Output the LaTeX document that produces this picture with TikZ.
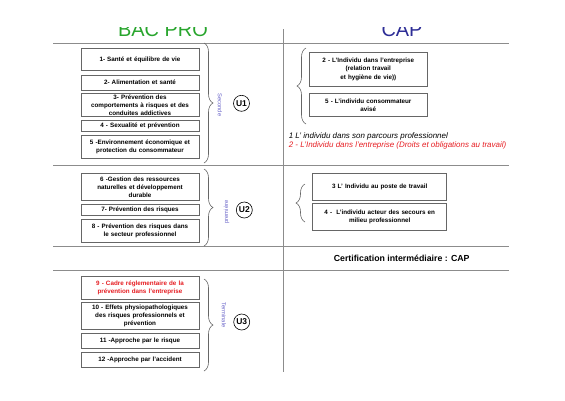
\documentclass[tikz,border=0pt]{standalone}
\usepackage{fontspec}
\setmainfont{Liberation Sans}
\usetikzlibrary{decorations.pathreplacing}

\definecolor{bacgreen}{RGB}{40,165,45}
\definecolor{capblue}{RGB}{45,45,150}
\definecolor{yearblue}{RGB}{105,100,200}
\definecolor{redtxt}{RGB}{230,30,35}

\begin{document}
\begin{tikzpicture}[
            x = 1bp, y = -1bp, % pixel units, y going down
            semithick, % line style
            inner sep = 1bp
        ]

        \tikzstyle{module}=[
            draw = black!60,
            line width = 0.8pt,
            fill = white,
            align = center,
            text width = 116bp,
            font = \fontsize{6.3}{8.2}\selectfont\bfseries
        ]
        \tikzstyle{unit}=[
            draw = black,
            circle,
            line width = 0.6pt,
            minimum size = 16bp,
            font = \fontsize{8.5}{9}\selectfont\bfseries
        ]
        \tikzstyle{year}=[
            text = yearblue,
            font = \fontsize{5.8}{6}\selectfont
        ]
        \tikzstyle{rule}=[draw = black!45, line width = 0.9pt]
        \tikzstyle{curly}=[draw = black!60, line width = 0.6pt,
            decorate, decoration = {brace, amplitude = 9bp}]

        \useasboundingbox (0,0) rectangle (565,400);

        % titles, cut at the top
        \begin{scope}
            \clip (0,27) rectangle (565,400);
            \node[anchor = base, text = bacgreen, font = \fontsize{20}{20}\selectfont] (bac) at (163,36) {BAC PRO};
            \node[anchor = base, text = capblue, font = \fontsize{20}{20}\selectfont] (cap) at (402,36) {CAP};
        \end{scope}

        % grid
        \draw[rule] (283,29) -- (283,372);
        \draw[rule] (53,43) -- (509,43);
        \draw[rule] (53,165) -- (509,165);
        \draw[rule] (53,246) -- (509,246);
        \draw[rule] (53,270) -- (509,270);

        % BAC PRO modules
        \node[module, minimum height = 22.4bp] (m1) at (140,59.5) {1- Santé et équilibre de vie};
        \node[module, minimum height = 15bp] (m2) at (140,82.5) {2- Alimentation et santé};
        \node[module, minimum height = 23.4bp] (m3) at (140,105) {3- Prévention des\\comportements à risques et des\\conduites addictives};
        \node[module, minimum height = 11.7bp] (m4) at (140,125.8) {4 - Sexualité et prévention};
        \node[module, minimum height = 23.3bp] (m5) at (140,146.7) {5 -Environnement économique et\\protection du consommateur};

        \node[module, minimum height = 27.4bp] (m6) at (140,187) {6 -Gestion des ressources\\naturelles et développement\\durable};
        \node[module, minimum height = 10.7bp] (m7) at (140,209.7) {7- Prévention des risques};
        \node[module, minimum height = 23bp] (m8) at (140,230.8) {8 - Prévention des risques dans\\le secteur professionnel};

        \node[module, minimum height = 23bp, text = redtxt] (m9) at (140,287.5) {9 - Cadre réglementaire de la\\prévention dans l'entreprise};
        \node[module, minimum height = 26.3bp] (m10) at (140,315.8) {10 - Effets physiopathologiques\\des risques professionnels et\\prévention};
        \node[module, minimum height = 15bp] (m11) at (140,340.8) {11 -Approche par le risque};
        \node[module, minimum height = 15bp] (m12) at (140,359.8) {12 -Approche par l'accident};

        % years and units
        \coordinate (s1) at (204,43);
        \coordinate (e1) at (204,163);
        \coordinate (s2) at (204,169);
        \coordinate (e2) at (204,246);
        \coordinate (s3) at (204,279);
        \coordinate (e3) at (204,371);
        \draw[curly] (s1) -- (e1);
        \draw[curly] (s2) -- (e2);
        \draw[curly] (s3) -- (e3);

        \node[year, rotate = -90] (y1) at (220,105) {Seconde};
        \node[year, rotate = 90] (y2) at (226.5,212) {première};
        \node[year, rotate = -90] (y3) at (224,315) {Terminale};

        \node[unit] (u1) at (241.5,103.3) {U1};
        \node[unit] (u2) at (244.3,210) {U2};
        \node[unit] (u3) at (241.7,322) {U3};

        % CAP modules
        \node[module, minimum height = 34.3bp, anchor = north] (c2) at (368.3,51.7) {2 - L'Individu dans l'entreprise\\(relation travail\\et hygiène de vie))};
        \node[module, minimum height = 23.4bp] (c5) at (368.3,105) {5 - L'individu consommateur\\avisé};
        \node[module, minimum height = 26.7bp, text width = 132bp] (c3) at (379.7,186.7) {3 L' Individu au poste de travail};
        \node[module, minimum height = 27.4bp, text width = 132bp] (c4) at (379.7,217) {4 -\ \ L'individu acteur des secours en\\milieu professionnel};

        \coordinate (s4) at (306,48);
        \coordinate (e4) at (306,124);
        \coordinate (s5) at (305,184);
        \coordinate (e5) at (305,222);
        \draw[curly, decoration = {mirror}] (s4) -- (e4);
        \draw[curly, decoration = {mirror}] (s5) -- (e5);

        \node[anchor = west, font = \fontsize{8}{9}\selectfont\itshape] (p1) at (287.5,136) {1 L' individu dans son parcours professionnel};
        \node[anchor = west, text = redtxt, font = \fontsize{8}{9}\selectfont\itshape] (p2) at (287.5,145.5) {2 - L'Individu dans l'entreprise (Droits et obligations au travail)};

        \node[font = \fontsize{8.8}{10}\selectfont\bfseries] (cert) at (401.7,258.3) {Certification intermédiaire : CAP};

    \end{tikzpicture}
\end{document}
